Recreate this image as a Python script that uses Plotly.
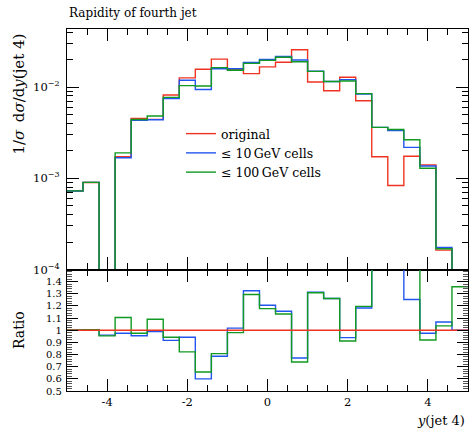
import plotly.graph_objects as go

# ---------------- data ----------------
bin_edges = [-5.0, -4.6, -4.2, -3.8, -3.4, -3.0, -2.6, -2.2, -1.8, -1.4, -1.0, -0.6, -0.2,
             0.2, 0.6, 1.0, 1.4, 1.8, 2.2, 2.6, 3.0, 3.4, 3.8, 4.2, 4.6, 5.0]

original = [7.26e-4, 8.98e-4, 6.0e-5, 1.72e-3, 4.52e-3, 4.42e-3, 8.17e-3, 1.259e-2, 1.567e-2,
            2.02e-2, 1.56e-2, 1.404e-2, 1.664e-2, 1.87e-2, 2.56e-2, 1.135e-2, 9.12e-3, 1.28e-2,
            7.08e-3, 1.72e-3, 8.32e-4, 1.74e-3, 1.40e-3, 1.63e-4, 5.0e-5]

cells_10 = [7.26e-4, 9.02e-4, 5.76e-5, 1.677e-3, 4.317e-3, 4.376e-3, 7.49e-3, 1.186e-2, 9.40e-3,
            1.588e-2, 1.587e-2, 1.860e-2, 2.007e-2, 2.162e-2, 1.976e-2, 1.491e-2, 1.150e-2, 1.202e-2,
            8.38e-3, 3.61e-3, 3.33e-3, 2.18e-3, 1.365e-3, 1.74e-4, 5.0e-5]

cells_100 = [7.28e-4, 9.02e-4, 5.72e-5, 1.90e-3, 4.407e-3, 4.818e-3, 7.70e-3, 1.035e-2, 1.028e-2,
             1.632e-2, 1.529e-2, 1.817e-2, 1.960e-2, 2.119e-2, 1.892e-2, 1.485e-2, 1.150e-2, 1.166e-2,
             8.47e-3, 3.61e-3, 3.42e-3, 2.645e-3, 1.287e-3, 1.689e-4, 6.79e-5]

series_names = ["original", "≤ 10\u2009GeV cells", "≤ 100\u2009GeV cells"]
series_colors = ["#EE3322", "#2255EE", "#119922"]

x_tick_vals = [-4, -2, 0, 2, 4]
x_tick_text = ["-4", "-2", "0", "2", "4"]
main_tick_vals = [1e-4, 1e-3, 1e-2]
main_tick_text = ["10<sup>\u22124</sup>", "10<sup>\u22123</sup>", "10<sup>\u22122</sup>"]
ratio_tick_vals = [0.5, 0.6, 0.7, 0.8, 0.9, 1.0, 1.1, 1.2, 1.3, 1.4]
ratio_tick_text = ["0.5", "0.6", "0.7", "0.8", "0.9", "1", "1.1", "1.2", "1.3", "1.4"]
main_minor_vals = [m * 10.0 ** e for e in (-4, -3, -2) for m in range(2, 10)]

# ---------------- figure ----------------
FONT = "DejaVu Serif"
fig = go.Figure()

def step_xy(vals):
    xs = list(bin_edges[:-1]) + [bin_edges[-1]]
    ys = list(vals) + [vals[-1]]
    return xs, ys

all_series = [original, cells_10, cells_100]
for name, col, vals in zip(series_names, series_colors, all_series):
    xs, ys = step_xy(vals)
    fig.add_trace(go.Scatter(x=xs, y=ys, mode="lines", line=dict(color=col, width=1.4, shape="hv"),
                             name=name, xaxis="x", yaxis="y"))

# ratio traces (to original)
ratio_order = [1, 2, 0]
for i in ratio_order:
    vals = all_series[i]
    r = [v / o for v, o in zip(vals, original)]
    xs, ys = step_xy(r)
    fig.add_trace(go.Scatter(x=xs, y=ys, mode="lines",
                             line=dict(color=series_colors[i], width=1.4, shape="hv"),
                             showlegend=False, xaxis="x2", yaxis="y2"))

W, H = 469, 430
ml, mr, mt, mb = 67, 1, 29, 39
ph = H - mt - mb
pw = W - ml - mr
split = 121.5 / ph

axis_common = dict(showline=True, linecolor="black", linewidth=1.2, mirror="allticks",
                   ticks="inside", tickcolor="black", showgrid=False, zeroline=False)

minor_x = dict(dtick=0.5, tick0=0, ticklen=6, tickwidth=1, tickcolor="black", ticks="inside")

fig.update_layout(
    width=W, height=H,
    margin=dict(l=ml, r=mr, t=mt, b=mb),
    paper_bgcolor="white", plot_bgcolor="white",
    font=dict(family=FONT, size=13, color="black"),
    showlegend=True,
    legend=dict(x=(181 - ml) / pw, y=1 - (119 - mt) / ph, xanchor="left", yanchor="top",
                bgcolor="rgba(0,0,0,0)", font=dict(family=FONT, size=12.5), tracegroupgap=0),
    xaxis=dict(domain=[0, 1], range=[-5, 5], anchor="y", showticklabels=False,
               tickvals=x_tick_vals, ticklen=12, tickwidth=1.2, minor=minor_x, **axis_common),
    yaxis=dict(domain=[split, 1], type="log", range=[-4, -1.364], anchor="x",
               tickvals=main_tick_vals, ticktext=main_tick_text, ticklen=12, tickwidth=1.2,
               ticklabelstandoff=4, tickfont=dict(family=FONT, size=11.5, color="black"),
               minor=dict(tickvals=main_minor_vals, ticklen=6, tickwidth=1, tickcolor="black", ticks="inside"),
               **axis_common),
    xaxis2=dict(domain=[0, 1], range=[-5, 5], anchor="y2", tickvals=x_tick_vals, ticktext=x_tick_text,
                ticklen=12, tickwidth=1.2, tickfont=dict(family=FONT, size=11.5, color="black"),
                minor=minor_x, **axis_common),
    yaxis2=dict(domain=[0, split], range=[0.5, 1.5], anchor="x2",
                tickvals=ratio_tick_vals, ticktext=ratio_tick_text, ticklen=11, tickwidth=1.2,
                ticklabelstandoff=2, tickfont=dict(family=FONT, size=10, color="black"),
                minor=dict(dtick=0.02, tick0=0, ticklen=5, tickwidth=1, tickcolor="#555", ticks="inside"),
                **axis_common),
)

fig.add_annotation(text="Rapidity of fourth jet", xref="paper", yref="paper",
                   x=0, y=1 + (mt - 13) / ph, xanchor="left", yanchor="middle", showarrow=False,
                   font=dict(family=FONT, size=12))
fig.add_annotation(text="1/<i>σ</i>\u2002d<i>σ</i>/d<i>y</i>(jet\u00a04)", xref="paper", yref="paper",
                   x=(18 - ml) / pw, y=1 - 3 / ph, xanchor="center", yanchor="top", textangle=-90,
                   showarrow=False, font=dict(family=FONT, size=15))
fig.add_annotation(text="Ratio", xref="paper", yref="paper",
                   x=(19 - ml) / pw, y=(H - mb - 330) / ph, xanchor="center", yanchor="middle",
                   textangle=-90, showarrow=False, font=dict(family=FONT, size=14))
fig.add_annotation(text="<i>y</i>(jet 4)", xref="paper", yref="paper",
                   x=1 - 1 / pw, y=-(421 - (H - mb)) / ph, xanchor="right", yanchor="middle",
                   showarrow=False, font=dict(family=FONT, size=13))

fig.write_html("out.html")
